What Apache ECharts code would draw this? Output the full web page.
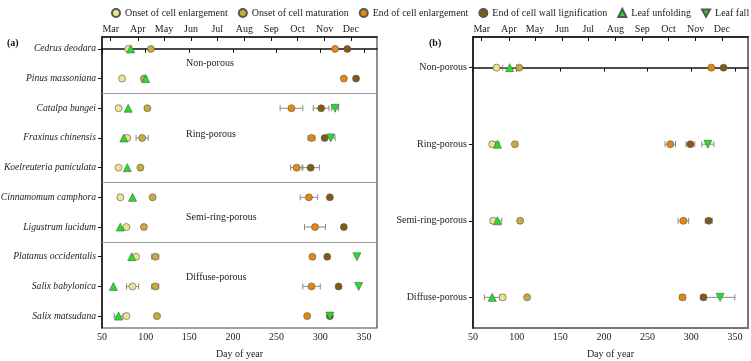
<!DOCTYPE html>
<html>
<head>
<meta charset="utf-8">
<script src="https://cdn.jsdelivr.net/npm/echarts@6/dist/echarts.min.js"></script>
<style>
  html, body { margin: 0; padding: 0; background: #fff; }
  #chart { width: 751px; height: 361px; }
</style>
</head>
<body>
<div id="chart"></div>
<script>
// species (panel a) and wood groups (panel b)
const species = ['Cedrus deodara', 'Pinus massoniana', 'Catalpa bungei', 'Fraxinus chinensis',
  'Koelreuteria paniculata', 'Cinnamomum camphora', 'Ligustrum lucidum', 'Platanus occidentalis',
  'Salix babylonica', 'Salix matsudana'];
const groups = ['Non-porous', 'Ring-porous', 'Semi-ring-porous', 'Diffuse-porous'];
const phases = ['Onset of cell enlargement', 'Onset of cell maturation', 'End of cell enlargement',
  'End of cell wall lignification', 'Leaf unfolding', 'Leaf fall'];

const monthDays = [60, 91, 121, 152, 182, 213, 244, 274, 305, 335];
const monthNames = ['Mar', 'Apr', 'May', 'Jun', 'Jul', 'Aug', 'Sep', 'Oct', 'Nov', 'Dec'];
const dayTicks = [50, 100, 150, 200, 250, 300, 350];

// panel (a) means, day of year (null = not shown)
const aEnlStart = [80, 73, 69, 79, 69, 71, 78, 89, 85, 78];
const aMatStart = [106, 98, 102, 96, 94, 108, 98, 111, 111, 113];
const aEnlEnd   = [317, 327, 267, 290, 273, 287, 294, 291, 290, 285];
const aLignEnd  = [331, 341, 301, 305, 289, 311, 327, 308, 321, 311];
const aUnfold   = [83, 100, 80, 75, 79, 85, 71, 84, 63, 69];
const aFall     = [null, null, 317, 312, null, null, null, 342, 344, 311];
// panel (a) standard deviations
const aEnlStartSd = [0, 0, 0, 2, 0, 0, 0, 2, 7, 0];
const aMatStartSd = [0, 0, 0, 7, 2, 0, 0, 4, 4, 0];
const aEnlEndSd   = [0, 0, 13, 4, 7, 10, 12, 0, 10, 0];
const aLignEndSd  = [0, 0, 9, 0, 10, 0, 0, 0, 0, 0];
const aUnfoldSd   = [0, 0, 0, 0, 0, 0, 0, 0, 0, 5];
const aFallSd     = [0, 0, 4, 5, 0, 0, 0, 0, 0, 2];

// panel (b) means and standard deviations
const bEnlStart = [77, 72, 73, 84];
const bMatStart = [103, 98, 104, 112];
const bEnlEnd   = [323, 276, 291, 290];
const bLignEnd  = [337, 299, 320, 314];
const bUnfold   = [92, 78, 78, 72];
const bFall     = [null, 319, null, 333];
const bEnlStartSd = [2, 3, 3, 3];
const bMatStartSd = [0, 0, 0, 0];
const bEnlEndSd   = [2, 6, 6, 3];
const bLignEndSd  = [2, 5, 4, 3];
const bUnfoldSd   = [8, 2, 5, 9];
const bFallSd     = [0, 7, 0, 17];

const colors = ['#ede48e', '#c8ac3c', '#e4890f', '#865818', '#22e022', '#22e022'];
const symbols = ['circle', 'circle', 'circle', 'circle', 'triangle', 'triangle'];
const rotates = [0, 0, 0, 0, 0, 180];
const legendIcons = ['circle', 'circle', 'circle', 'circle', 'triangle', 'path://M0,0L10,0L5,9Z'];

const aMeans = [aEnlStart, aMatStart, aEnlEnd, aLignEnd, aUnfold, aFall];
const aSds = [aEnlStartSd, aMatStartSd, aEnlEndSd, aLignEndSd, aUnfoldSd, aFallSd];
const bMeans = [bEnlStart, bMatStart, bEnlEnd, bLignEnd, bUnfold, bFall];
const bSds = [bEnlStartSd, bMatStartSd, bEnlEndSd, bLignEndSd, bUnfoldSd, bFallSd];

const FONT = 'Liberation Serif';
const FS = 10;
const chart = echarts.init(document.getElementById('chart'));

function errData(means, sds) {
  const out = [];
  means.forEach((arr, p) => {
    arr.forEach((m, i) => {
      if (m != null && sds[p][i] > 0) out.push([m - sds[p][i], m + sds[p][i], i]);
    });
  });
  return out;
}

function errSeries(xIdx, yIdx, data, extra) {
  return Object.assign({
    type: 'custom',
    xAxisIndex: xIdx,
    yAxisIndex: yIdx,
    silent: true,
    z: 2,
    data: data,
    renderItem: function (params, api) {
      const lo = api.coord([api.value(0), api.value(2)]);
      const hi = api.coord([api.value(1), api.value(2)]);
      const st = { stroke: '#8a8a8a', lineWidth: 1 };
      return {
        type: 'group',
        children: [
          { type: 'line', shape: { x1: lo[0], y1: lo[1], x2: hi[0], y2: hi[1] }, style: st },
          { type: 'line', shape: { x1: lo[0], y1: lo[1] - 3, x2: lo[0], y2: lo[1] + 3 }, style: st },
          { type: 'line', shape: { x1: hi[0], y1: hi[1] - 3, x2: hi[0], y2: hi[1] + 3 }, style: st }
        ]
      };
    }
  }, extra || {});
}

function pointSeries(xIdx, yIdx, means) {
  return phases.map((name, p) => ({
    name: name,
    type: 'scatter',
    xAxisIndex: xIdx,
    yAxisIndex: yIdx,
    symbol: symbols[p],
    symbolRotate: rotates[p],
    symbolSize: p >= 4 ? 8 : 7,
    z: 3 + p,
    itemStyle: { color: colors[p], borderColor: '#555', borderWidth: 0.6, opacity: 1 },
    data: means[p].map((v, i) => v == null ? null : [v, i]).filter(d => d)
  }));
}

function bottomAxis(grid) {
  return {
    type: 'value', gridIndex: grid, min: 50, max: 365, position: 'bottom',
    name: 'Day of year', nameLocation: 'middle', nameGap: 21,
    nameTextStyle: { fontFamily: FONT, fontSize: FS, color: '#222' },
    axisLine: { show: true, lineStyle: { color: '#111', width: 1.5 } },
    axisTick: { show: true, customValues: dayTicks, length: 4, lineStyle: { color: '#111' } },
    axisLabel: { customValues: dayTicks, fontFamily: FONT, fontSize: FS, color: '#222', margin: 4 },
    splitLine: { show: false }
  };
}

function topAxis(grid) {
  return {
    type: 'value', gridIndex: grid, min: 50, max: 365, position: 'top',
    axisLine: { show: true, onZero: false, lineStyle: { color: '#111', width: 1.5 } },
    axisTick: { show: true, inside: true, customValues: monthDays, length: 4, lineStyle: { color: '#111' } },
    axisLabel: {
      customValues: monthDays, fontFamily: FONT, fontSize: FS, color: '#222', margin: 3,
      formatter: v => monthNames[monthDays.indexOf(v)] || ''
    },
    splitLine: { show: false }
  };
}

function catAxis(grid, names, italic) {
  const idx = names.map((n, i) => i);
  return {
    type: 'value', gridIndex: grid, inverse: true, min: -0.4, max: names.length - 0.6,
    axisLine: { show: true, lineStyle: { color: '#111', width: 1.5 } },
    axisTick: { show: true, customValues: idx, length: 4, lineStyle: { color: '#111' } },
    axisLabel: {
      customValues: idx, fontFamily: FONT, fontSize: italic ? 9.6 : FS, color: '#222',
      fontStyle: italic ? 'italic' : 'normal', margin: 6,
      formatter: v => names[Math.round(v)] || ''
    },
    splitLine: { show: false }
  };
}

const groupText = [
  { text: 'Non-porous', top: 58 },
  { text: 'Ring-porous', top: 129 },
  { text: 'Semi-ring-porous', top: 212 },
  { text: 'Diffuse-porous', top: 272 }
];

const option = {
  animation: false,
  backgroundColor: '#fff',
  textStyle: { fontFamily: FONT },
  legend: {
    top: 3, left: 106, width: 645, itemWidth: 8, itemHeight: 8, itemGap: 10,
    textStyle: { fontFamily: FONT, fontSize: FS, color: '#222' },
    data: phases.map((n, p) => ({ name: n, icon: legendIcons[p] }))
  },
  grid: [
    { left: 102, right: 374, top: 37, bottom: 33, outerBoundsMode: 'none', containLabel: false,
      show: true, borderColor: '#444', borderWidth: 1.2 },
    { left: 473, right: 3, top: 37, bottom: 33, outerBoundsMode: 'none', containLabel: false,
      show: true, borderColor: '#777', borderWidth: 2 }
  ],
  xAxis: [bottomAxis(0), topAxis(0), bottomAxis(1), topAxis(1)],
  yAxis: [catAxis(0, species, true), catAxis(1, groups, false)],
  graphic: [
    { type: 'text', left: 7, top: 38, style: { text: '(a)', font: 'bold 10px "Liberation Serif"', fill: '#111' } },
    { type: 'text', left: 429, top: 38, style: { text: '(b)', font: 'bold 10px "Liberation Serif"', fill: '#111' } }
  ].concat(groupText.map(g => ({
    type: 'text', left: 186, top: g.top,
    style: { text: g.text, font: '10px "Liberation Serif"', fill: '#222' }
  }))),
  series: [
    errSeries(0, 0, errData(aMeans, aSds), {
      markLine: {
        silent: true, symbol: 'none', label: { show: false },
        lineStyle: { color: '#999', type: 'solid', width: 1.2 },
        data: [{ yAxis: 1.5 }, { yAxis: 4.5 }, { yAxis: 6.5 }]
      }
    }),
    errSeries(2, 1, errData(bMeans, bSds))
  ].concat(pointSeries(0, 0, aMeans), pointSeries(2, 1, bMeans))
};

chart.setOption(option);
</script>
</body>
</html>
